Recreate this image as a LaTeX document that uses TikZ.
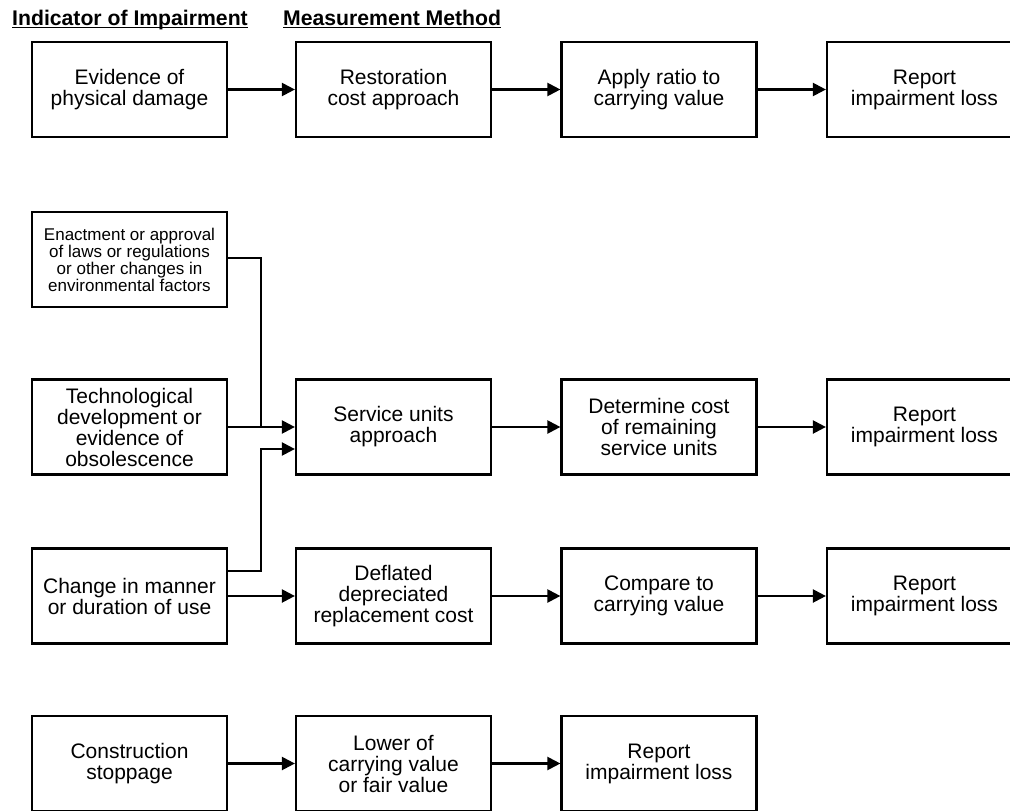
\documentclass[tikz,border=0pt]{standalone}
\usepackage{fontspec}
\setmainfont{Liberation Sans}
\usetikzlibrary{arrows.meta}
\begin{document}
\begin{tikzpicture}[x=1pt,y=-1pt,
  box/.style={draw,line width=2.2pt,minimum width=195pt,minimum height=95pt,inner sep=2pt,align=center,font=\fontsize{21}{21}\selectfont},
  smallbox/.style={box,font=\fontsize{17}{17}\selectfont},
  conn/.style={line width=2.2pt,-{Triangle[length=13pt,width=13pt]}},
  plain/.style={line width=2.2pt},
  head/.style={anchor=base west,inner sep=0pt,font=\fontsize{21.2}{21}\selectfont\bfseries},
  uline/.style={line width=1.6pt}]
\useasboundingbox (0,0) rectangle (1010,811);
% headers
\node[head] (h1) at (12,25) {Indicator of Impairment};
\node[head] (h2) at (283,25) {Measurement Method};
\draw[uline] ([yshift=-2.5pt]h1.base west) -- ([yshift=-2.5pt]h1.base east);
\draw[uline] ([yshift=-2.5pt]h2.base west) -- ([yshift=-2.5pt]h2.base east);
% row 1
\node[box] (a1) at (129.5,89.5) {Evidence of\\physical damage};
\node[box] (a2) at (393.5,89.5) {Restoration\\cost approach};
\node[box] (a3) at (659,89.5) {Apply ratio to\\carrying value};
\node[box] (a4) at (924.5,89.5) {Report\\impairment loss};
\draw[conn] (a1) -- (a2);
\draw[conn] (a2) -- (a3);
\draw[conn] (a3) -- (a4);
% row 2
\node[smallbox] (b1) at (129.5,259.5) {Enactment or approval\\of laws or regulations\\or other changes in\\environmental factors};
% row 3
\node[box] (c1) at (129.5,427) {Technological\\development or\\evidence of\\obsolescence};
\node[box] (c2) at (393.5,427) {Service units\\approach};
\node[box] (c3) at (659,427) {Determine cost\\of remaining\\service units};
\node[box] (c4) at (924.5,427) {Report\\impairment loss};
\draw[conn] (c1) -- (c2);
\draw[conn] (c2) -- (c3);
\draw[conn] (c3) -- (c4);
% row 4
\node[box] (d1) at (129.5,596) {Change in manner\\or duration of use};
\node[box] (d2) at (393.5,596) {Deflated\\depreciated\\replacement cost};
\node[box] (d3) at (659,596) {Compare to\\carrying value};
\node[box] (d4) at (924.5,596) {Report\\impairment loss};
\draw[conn] (d1) -- (d2);
\draw[conn] (d2) -- (d3);
\draw[conn] (d3) -- (d4);
% merging connectors
\coordinate (j1) at (261,427);
\draw[plain] (b1.east |- 0,258) -| (j1);
\draw[conn] (d1.east |- 0,571) -| (261,449) -- (c2.west |- 0,449);
% row 5
\node[box] (e1) at (129.5,763.5) {Construction\\stoppage};
\node[box] (e2) at (393.5,763.5) {Lower of\\carrying value\\or fair value};
\node[box] (e3) at (659,763.5) {Report\\impairment loss};
\draw[conn] (e1) -- (e2);
\draw[conn] (e2) -- (e3);
\end{tikzpicture}
\end{document}
